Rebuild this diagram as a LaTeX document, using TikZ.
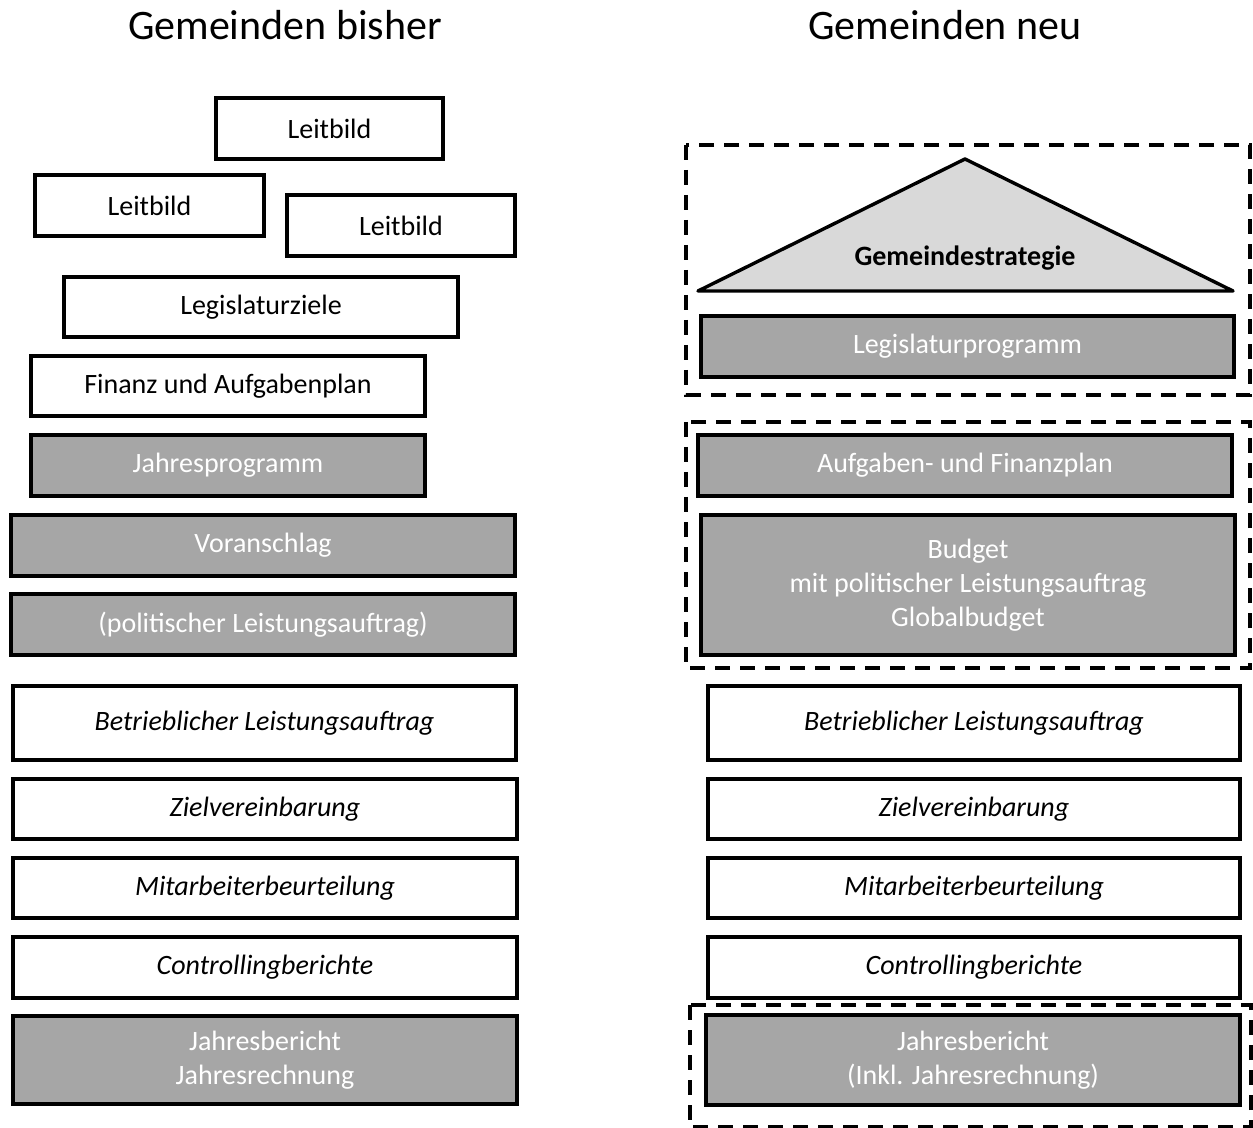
\documentclass[tikz,border=0pt]{standalone}
\usepackage{fontspec}
\setmainfont{Carlito}
\definecolor{boxgray}{HTML}{A6A6A6}
\definecolor{trigray}{HTML}{D9D9D9}
\tikzset{
  plain/.style={draw=black, line width=1.7pt, fill=white, inner sep=0pt, align=center, font=\fontsize{14}{17}\selectfont},
  grey/.style={plain, fill=boxgray, text=white},
  ital/.style={plain, font=\fontsize{14}{17}\selectfont\itshape},
  group/.style={draw=black, line width=1.6pt, dash pattern=on 7.5pt off 5pt},
  title/.style={font=\fontsize{21}{25}\selectfont, inner sep=0pt}
}
\begin{document}
\begin{tikzpicture}[x=0.5pt,y=-0.5pt]
\useasboundingbox (0,0) rectangle (1253,1128);
% titles
\node[title] (t1) at (285,25) {Gemeinden bisher};
\node[title] (t2) at (945,25) {Gemeinden neu};
% left column
\node[plain, minimum width=113.5pt, minimum height=30.5pt] (l1) at (329.5,128.5) {Leitbild};
\node[plain, minimum width=114.5pt, minimum height=30.5pt] (l2) at (149.5,205.5) {Leitbild};
\node[plain, minimum width=114pt, minimum height=30.5pt] (l3) at (401,225.5) {Leitbild};
\node[plain, minimum width=197pt, minimum height=30pt] (lz) at (261,307) {Legislaturziele};
\node[plain, minimum width=197pt, minimum height=30pt] (fa) at (228,386) {Finanz und Aufgabenplan};
\node[grey, minimum width=197pt, minimum height=30.5pt] (jp) at (228,465.5) {Jahresprogramm};
\node[grey, minimum width=252pt, minimum height=30.5pt] (va) at (263,545.5) {Voranschlag};
\node[grey, minimum width=252pt, minimum height=30.5pt] (pl) at (263,624.5) {(politischer Leistungsauftrag)};
\node[ital, minimum width=251.5pt, minimum height=37pt] (bl) at (264.5,723) {Betrieblicher Leistungsauftrag};
\node[ital, minimum width=252pt, minimum height=30pt] (zv) at (265,809) {Zielvereinbarung};
\node[ital, minimum width=252pt, minimum height=30pt] (mb) at (265,888) {Mitarbeiterbeurteilung};
\node[ital, minimum width=252pt, minimum height=30.5pt] (cb) at (265,967.5) {Controllingberichte};
\node[grey, minimum width=252pt, minimum height=44pt] (jb) at (265,1060) {Jahresbericht\\Jahresrechnung};
% right column
\draw[group] (686,145) rectangle (1250,395);
\draw[line width=1.7pt, fill=trigray, line join=round] (965,159) -- (1233,291) -- (698,291) -- cycle;
\node[font=\fontsize{14}{17}\selectfont\bfseries] (gs) at (965,258) {Gemeindestrategie};
\node[grey, minimum width=266.5pt, minimum height=30.5pt] (lp) at (967.5,346.5) {Legislaturprogramm};
\draw[group] (686,422) rectangle (1250,668);
\node[grey, minimum width=267pt, minimum height=30.5pt] (af) at (965,465.5) {Aufgaben- und Finanzplan};
\node[grey, minimum width=267pt, minimum height=70pt] (bu) at (968,585) {Budget\\mit politischer Leistungsauftrag\\Globalbudget};
\node[ital, minimum width=266pt, minimum height=37pt] (bl2) at (974,723) {Betrieblicher Leistungsauftrag};
\node[ital, minimum width=266pt, minimum height=30pt] (zv2) at (974,809) {Zielvereinbarung};
\node[ital, minimum width=266pt, minimum height=30pt] (mb2) at (974,888) {Mitarbeiterbeurteilung};
\node[ital, minimum width=266pt, minimum height=30.5pt] (cb2) at (974,967.5) {Controllingberichte};
\draw[group] (690,1005) rectangle (1251,1127);
\node[grey, minimum width=267pt, minimum height=45pt] (jb2) at (973,1060) {Jahresbericht\\(Inkl. Jahresrechnung)};
\end{tikzpicture}
\end{document}
